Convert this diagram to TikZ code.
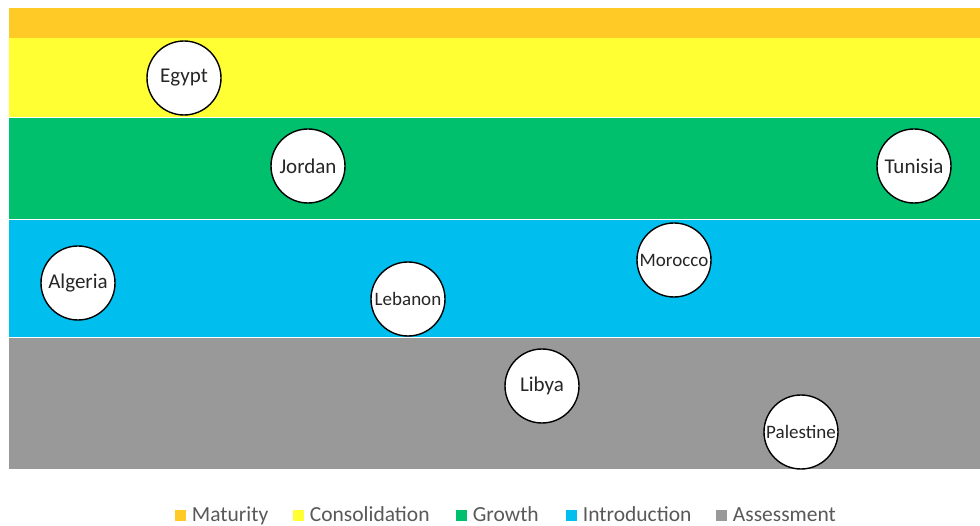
\documentclass[tikz,border=0pt]{standalone}
\usepackage{fontspec}
\setmainfont{Carlito}
\definecolor{maturity}{HTML}{FFC926}
\definecolor{consol}{HTML}{FFFF33}
\definecolor{growth}{HTML}{00C06E}
\definecolor{intro}{HTML}{00BFEF}
\definecolor{assess}{HTML}{999999}
\definecolor{legendtext}{HTML}{595959}
\tikzset{
  country/.style={circle, draw=black, line width=1.4pt, fill=white, minimum size=74pt, inner sep=0pt, text=black!85, font=\fontsize{21}{23}\selectfont},
  smallcountry/.style={country, font=\fontsize{19}{21}\selectfont},
  legendbox/.style={minimum size=11pt, inner sep=0pt},
  legendlabel/.style={anchor=base west, inner sep=0pt, text=legendtext, font=\fontsize{21.5}{23}\selectfont}
}
\begin{document}
\begin{tikzpicture}[x=1pt, y=-1pt]
                \useasboundingbox[fill=white](0,0) rectangle (980,526);
                % stage bands
                \fill[maturity](9,8) rectangle (980,38);
                \fill[consol](9,38) rectangle (980,117);
                \fill[growth](9,117) rectangle (980,219);
                \fill[intro](9,219) rectangle (980,337);
                \fill[assess](9,337) rectangle (980,469);
                \draw[white, line width=.6pt](9,117)--(980,117);
                \draw[white, line width=.6pt](9,219)--(980,219);
                \draw[white, line width=.6pt](9,337)--(980,337);
                % countries
                \node[country] (egypt) at (184,78) {Egypt};
                \node[country] (jordan) at (308,166) {Jordan};
                \node[country] (tunisia) at (914,166) {Tunisia};
                \node[country] (algeria) at (78,283) {Algeria};
                \node[smallcountry] (lebanon) at (408,299) {Lebanon};
                \node[smallcountry] (morocco) at (674,260) {Morocco};
                \node[country] (libya) at (542,386) {Libya};
                \node[smallcountry] (palestine) at (801,432) {Palestine};
                % legend
                \foreach \c/\x/\t [count=\i] in {maturity/180.5/Maturity, consol/298.5/Consolidation, growth/461.5/Growth, intro/571.5/Introduction, assess/721.5/Assessment}{
                  \node[legendbox, fill=\c] (key\i) at (\x,515) {};
                  \node[legendlabel] (lab\i) at ([xshift=5.5pt]key\i.east |- 0,521) {\t};
                }
\end{tikzpicture}
\end{document}
